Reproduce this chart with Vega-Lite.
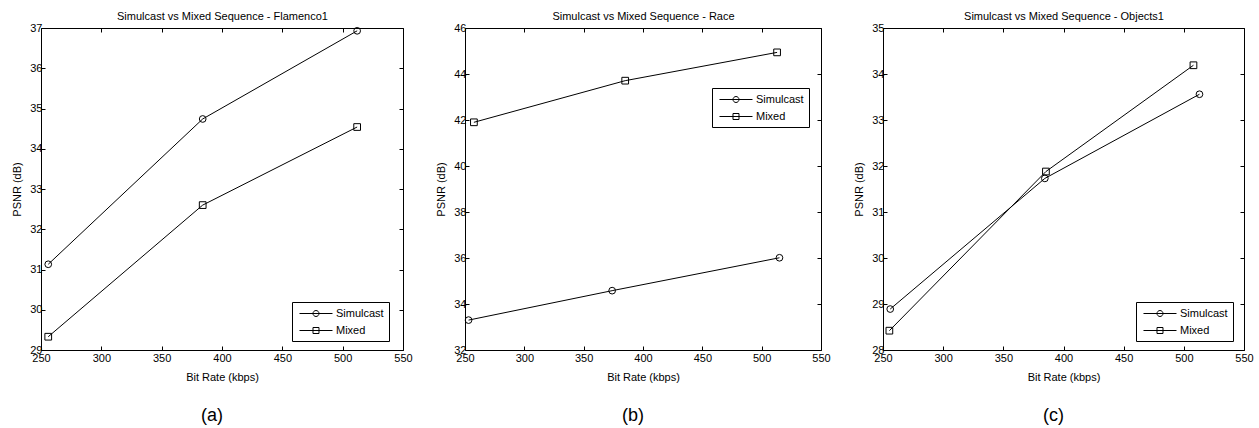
{
  "$schema": "https://vega.github.io/schema/vega-lite/v6.json",
  "padding": {"left": 11, "top": 10, "right": 0, "bottom": 0},
  "spacing": 22,
  "resolve": {"scale": {"shape": "independent"}, "legend": {"shape": "independent"}},
  "config": {
    "font": "Liberation Sans",
    "view": {"stroke": "black", "strokeWidth": 1},
    "axis": {
      "labelFont": "Liberation Sans", "labelFontSize": 11, "labelColor": "black",
      "titleFont": "Liberation Sans", "titleFontSize": 11, "titleFontWeight": "normal", "titleColor": "black",
      "tickColor": "black", "tickSize": -4, "tickWidth": 1, "domain": false, "grid": false,
      "labelPadding": 3, "labelFlush": false, "labelOverlap": false, "labelBound": false
    },
    "axisBottom": {"labelPadding": 6, "titlePadding": 8},
    "legend": {
      "orient": "none", "title": null, "strokeColor": "black", "fillColor": "white", "padding": 5,
      "symbolSize": 144, "symbolOffset": 0, "labelOffset": 26, "rowPadding": 5,
      "labelFont": "Liberation Sans", "labelFontSize": 11, "labelColor": "black",
      "symbolStrokeColor": "black", "symbolFillColor": "transparent", "symbolStrokeWidth": 1,
      "cornerRadius": 0
    },
    "title": {"font": "Liberation Sans", "fontSize": 18, "fontWeight": "normal", "color": "black", "orient": "bottom", "frame": "bounds", "offset": 25}
  },
  "datasets": {
    "pts": [
      {"panel": "a", "series": "Simulcast", "rate": 256, "psnr": 31.13},
      {"panel": "a", "series": "Simulcast", "rate": 384, "psnr": 34.74},
      {"panel": "a", "series": "Simulcast", "rate": 512, "psnr": 36.93},
      {"panel": "a", "series": "Mixed", "rate": 256, "psnr": 29.33},
      {"panel": "a", "series": "Mixed", "rate": 384, "psnr": 32.6},
      {"panel": "a", "series": "Mixed", "rate": 512, "psnr": 34.54},
      {"panel": "b", "series": "Simulcast", "rate": 253, "psnr": 33.3},
      {"panel": "b", "series": "Simulcast", "rate": 374, "psnr": 34.58},
      {"panel": "b", "series": "Simulcast", "rate": 515, "psnr": 36.01},
      {"panel": "b", "series": "Mixed", "rate": 257.5, "psnr": 41.9},
      {"panel": "b", "series": "Mixed", "rate": 385, "psnr": 43.71},
      {"panel": "b", "series": "Mixed", "rate": 513, "psnr": 44.94},
      {"panel": "c", "series": "Simulcast", "rate": 256, "psnr": 28.89},
      {"panel": "c", "series": "Simulcast", "rate": 384.5, "psnr": 31.73},
      {"panel": "c", "series": "Simulcast", "rate": 513, "psnr": 33.56},
      {"panel": "c", "series": "Mixed", "rate": 255.3, "psnr": 28.42},
      {"panel": "c", "series": "Mixed", "rate": 385.4, "psnr": 31.88},
      {"panel": "c", "series": "Mixed", "rate": 508, "psnr": 34.19}
    ]
  },
  "hconcat": [
    {
      "width": 362, "height": 322,
      "title": {"text": "(a)"},
      "data": {"name": "pts"},
      "transform": [{"filter": "datum.panel === 'a'"}],
      "layer": [
        {
          "mark": {"type": "line", "color": "black", "strokeWidth": 1},
          "encoding": {
            "x": {"field": "rate", "type": "quantitative", "scale": {"domain": [250, 550], "nice": false},
                  "axis": {"values": [250, 300, 350, 400, 450, 500, 550], "title": "Bit Rate (kbps)"}},
            "y": {"field": "psnr", "type": "quantitative", "scale": {"domain": [29, 37], "nice": false, "zero": false},
                  "axis": {"values": [29, 30, 31, 32, 33, 34, 35, 36, 37], "title": "PSNR (dB)", "titlePadding": 7}},
            "detail": {"field": "series"}
          }
        },
        {
          "mark": {"type": "point", "filled": false, "color": "black", "strokeWidth": 1, "size": 45, "opacity": 1},
          "encoding": {
            "x": {"field": "rate", "type": "quantitative", "scale": {"domain": [250, 550], "nice": false},
                  "axis": {"orient": "top", "values": [250, 300, 350, 400, 450, 500, 550], "labels": false, "title": "Simulcast vs Mixed Sequence - Flamenco1", "titlePadding": 6}},
            "y": {"field": "psnr", "type": "quantitative", "scale": {"domain": [29, 37], "nice": false, "zero": false},
                  "axis": {"orient": "right", "values": [29, 30, 31, 32, 33, 34, 35, 36, 37], "labels": false, "title": null}},
            "shape": {"field": "series", "type": "nominal", "scale": {"domain": ["Simulcast", "Mixed"], "range": ["circle", "square"]}, "legend": null}
          }
        },
        {
          "transform": [{"filter": "false"}],
          "mark": {"type": "point", "filled": false, "color": "black", "strokeWidth": 1, "opacity": 1},
          "encoding": {
            "x": {"field": "rate", "type": "quantitative", "axis": null},
            "y": {"field": "psnr", "type": "quantitative", "axis": null},
            "shape": {"field": "series", "type": "nominal",
                      "scale": {"domain": ["Simulcast", "Mixed"], "range": ["M-0.667,0H4.833M2.583,0A0.5,0.5,0,1,1,1.583,0A0.5,0.5,0,1,1,2.583,0", "M-0.667,0H4.833M1.583,-0.5H2.583V0.5H1.583Z"]},
                      "legend": {"legendX": 251, "legendY": 274}}
          }
        }
      ],
      "resolve": {"axis": {"x": "independent", "y": "independent"}, "scale": {"shape": "independent"}, "legend": {"shape": "independent"}}
    },
    {
      "width": 356, "height": 322,
      "title": {"text": "(b)"},
      "data": {"name": "pts"},
      "transform": [{"filter": "datum.panel === 'b'"}],
      "layer": [
        {
          "mark": {"type": "line", "color": "black", "strokeWidth": 1},
          "encoding": {
            "x": {"field": "rate", "type": "quantitative", "scale": {"domain": [250, 550], "nice": false},
                  "axis": {"values": [250, 300, 350, 400, 450, 500, 550], "title": "Bit Rate (kbps)"}},
            "y": {"field": "psnr", "type": "quantitative", "scale": {"domain": [32, 46], "nice": false, "zero": false},
                  "axis": {"values": [32, 34, 36, 38, 40, 42, 44, 46], "title": "PSNR (dB)", "titlePadding": 7}},
            "detail": {"field": "series"}
          }
        },
        {
          "mark": {"type": "point", "filled": false, "color": "black", "strokeWidth": 1, "size": 45, "opacity": 1},
          "encoding": {
            "x": {"field": "rate", "type": "quantitative", "scale": {"domain": [250, 550], "nice": false},
                  "axis": {"orient": "top", "values": [250, 300, 350, 400, 450, 500, 550], "labels": false, "title": "Simulcast vs Mixed Sequence - Race", "titlePadding": 6}},
            "y": {"field": "psnr", "type": "quantitative", "scale": {"domain": [32, 46], "nice": false, "zero": false},
                  "axis": {"orient": "right", "values": [32, 34, 36, 38, 40, 42, 44, 46], "labels": false, "title": null}},
            "shape": {"field": "series", "type": "nominal", "scale": {"domain": ["Simulcast", "Mixed"], "range": ["circle", "square"]}, "legend": null}
          }
        },
        {
          "transform": [{"filter": "false"}],
          "mark": {"type": "point", "filled": false, "color": "black", "strokeWidth": 1, "opacity": 1},
          "encoding": {
            "x": {"field": "rate", "type": "quantitative", "axis": null},
            "y": {"field": "psnr", "type": "quantitative", "axis": null},
            "shape": {"field": "series", "type": "nominal",
                      "scale": {"domain": ["Simulcast", "Mixed"], "range": ["M-0.667,0H4.833M2.583,0A0.5,0.5,0,1,1,1.583,0A0.5,0.5,0,1,1,2.583,0", "M-0.667,0H4.833M1.583,-0.5H2.583V0.5H1.583Z"]},
                      "legend": {"legendX": 247, "legendY": 60}}
          }
        }
      ],
      "resolve": {"axis": {"x": "independent", "y": "independent"}, "scale": {"shape": "independent"}, "legend": {"shape": "independent"}}
    },
    {
      "width": 361, "height": 322,
      "title": {"text": "(c)"},
      "data": {"name": "pts"},
      "transform": [{"filter": "datum.panel === 'c'"}],
      "layer": [
        {
          "mark": {"type": "line", "color": "black", "strokeWidth": 1},
          "encoding": {
            "x": {"field": "rate", "type": "quantitative", "scale": {"domain": [250, 550], "nice": false},
                  "axis": {"values": [250, 300, 350, 400, 450, 500, 550], "title": "Bit Rate (kbps)"}},
            "y": {"field": "psnr", "type": "quantitative", "scale": {"domain": [28, 35], "nice": false, "zero": false},
                  "axis": {"values": [28, 29, 30, 31, 32, 33, 34, 35], "title": "PSNR (dB)", "titlePadding": 7}},
            "detail": {"field": "series"}
          }
        },
        {
          "mark": {"type": "point", "filled": false, "color": "black", "strokeWidth": 1, "size": 45, "opacity": 1},
          "encoding": {
            "x": {"field": "rate", "type": "quantitative", "scale": {"domain": [250, 550], "nice": false},
                  "axis": {"orient": "top", "values": [250, 300, 350, 400, 450, 500, 550], "labels": false, "title": "Simulcast vs Mixed Sequence - Objects1", "titlePadding": 6}},
            "y": {"field": "psnr", "type": "quantitative", "scale": {"domain": [28, 35], "nice": false, "zero": false},
                  "axis": {"orient": "right", "values": [28, 29, 30, 31, 32, 33, 34, 35], "labels": false, "title": null}},
            "shape": {"field": "series", "type": "nominal", "scale": {"domain": ["Simulcast", "Mixed"], "range": ["circle", "square"]}, "legend": null}
          }
        },
        {
          "transform": [{"filter": "false"}],
          "mark": {"type": "point", "filled": false, "color": "black", "strokeWidth": 1, "opacity": 1},
          "encoding": {
            "x": {"field": "rate", "type": "quantitative", "axis": null},
            "y": {"field": "psnr", "type": "quantitative", "axis": null},
            "shape": {"field": "series", "type": "nominal",
                      "scale": {"domain": ["Simulcast", "Mixed"], "range": ["M-0.667,0H4.833M2.583,0A0.5,0.5,0,1,1,1.583,0A0.5,0.5,0,1,1,2.583,0", "M-0.667,0H4.833M1.583,-0.5H2.583V0.5H1.583Z"]},
                      "legend": {"legendX": 253, "legendY": 274}}
          }
        }
      ],
      "resolve": {"axis": {"x": "independent", "y": "independent"}, "scale": {"shape": "independent"}, "legend": {"shape": "independent"}}
    }
  ]
}
